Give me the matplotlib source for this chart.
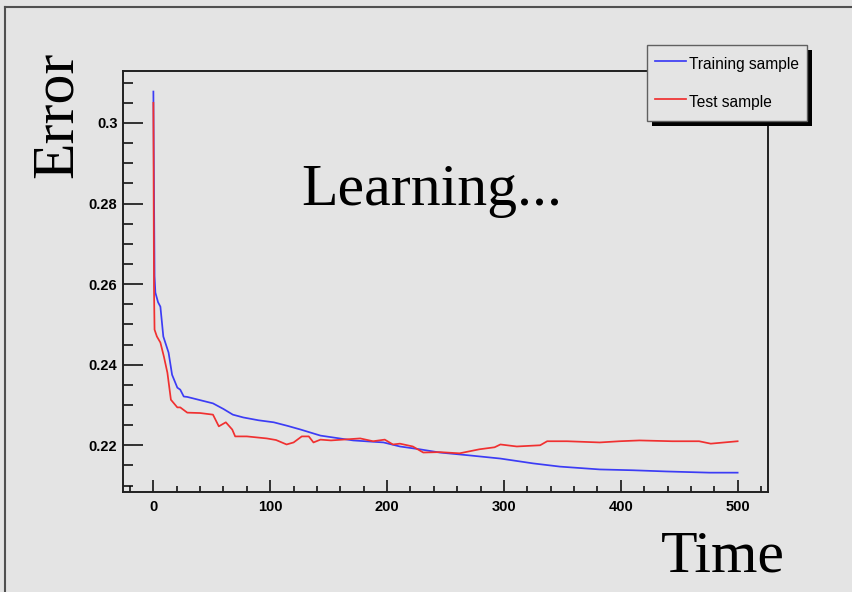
import matplotlib
matplotlib.use("Agg")
import matplotlib.pyplot as plt
from matplotlib.lines import Line2D
from matplotlib.patches import Rectangle
from matplotlib.ticker import MultipleLocator

# error curves vs. training epoch
train_t = [0, 0.5, 1, 1.7, 4, 6, 8.5, 13, 16, 20.5, 23, 26, 29, 40, 51, 60, 68, 77, 90,
           103, 115, 126, 143, 171, 197, 211, 228, 245, 270, 297, 325, 348, 382, 410,
           439, 476, 500]
train_err = [0.3078, 0.285, 0.262, 0.2579, 0.2555, 0.2544, 0.247, 0.243, 0.2375, 0.2343,
             0.2338, 0.2321, 0.232, 0.2312, 0.2304, 0.229, 0.2276, 0.2269, 0.2262, 0.2257,
             0.2248, 0.2239, 0.2224, 0.2212, 0.2207, 0.2197, 0.219, 0.2182, 0.2175, 0.2167,
             0.2155, 0.2147, 0.214, 0.2138, 0.2135, 0.2132, 0.2132]

test_t = [0, 0.5, 1, 3, 6, 9, 12, 15, 20.5, 23, 29, 40, 51, 56, 62, 67.5, 70, 80, 97, 105,
          114, 120, 127, 133, 137, 143, 152, 162, 177, 188, 198, 205, 211, 222, 231, 245,
          262, 279, 292, 297, 311, 331, 337, 354, 382, 399, 416, 444, 467, 477, 500]
test_err = [0.305, 0.2594, 0.2487, 0.247, 0.2455, 0.242, 0.238, 0.2313, 0.2294, 0.2294,
            0.2281, 0.228, 0.2276, 0.2247, 0.2257, 0.2239, 0.2222, 0.2222, 0.2217, 0.2213,
            0.2202, 0.2207, 0.2222, 0.2222, 0.2207, 0.2214, 0.2212, 0.2214, 0.2217, 0.221,
            0.2214, 0.2202, 0.2204, 0.2197, 0.2182, 0.2183, 0.218, 0.219, 0.2195, 0.2202,
            0.2197, 0.22, 0.221, 0.221, 0.2207, 0.221, 0.2212, 0.221, 0.221, 0.2204, 0.221]

labels = ["Training sample", "Test sample"]
W, H = 852, 592
bg = "#e4e4e4"

fig = plt.figure(figsize=(W / 100, H / 100), dpi=100, facecolor=bg)
ax = fig.add_axes([123 / W, 1 - 492 / H, (768 - 123) / W, (492 - 71) / H], facecolor=bg)

l1, = ax.plot(train_t, train_err, color="#3c3cf5", lw=1.25)
l2, = ax.plot(test_t, test_err, color="#f03030", lw=1.25)

ax.set_xlim(-26, 526)
ax.set_ylim(0.2084, 0.3129)
ax.xaxis.set_major_locator(MultipleLocator(100))
ax.xaxis.set_minor_locator(MultipleLocator(20))
ax.yaxis.set_major_locator(MultipleLocator(0.02))
ax.yaxis.set_minor_locator(MultipleLocator(0.005))
ax.yaxis.set_major_formatter(plt.FuncFormatter(lambda v, p: ("%.2f" % v).rstrip("0")))

# root-style frame: only left and bottom axes, ticks pointing in
for s in ["top", "right"]:
    ax.spines[s].set_visible(False)
for s in ["left", "bottom"]:
    ax.spines[s].set_linewidth(1.4)
    ax.spines[s].set_color("#202020")
ax.tick_params(axis="y", which="major", direction="in", length=14.4, width=1.1, pad=4)
ax.tick_params(axis="y", which="minor", direction="in", length=7.2, width=1.1)
ax.tick_params(axis="x", which="major", direction="in", length=9, width=1.1, pad=6)
ax.tick_params(axis="x", which="minor", direction="in", length=4.5, width=1.1)
for lab in ax.get_xticklabels() + ax.get_yticklabels():
    lab.set_family("Liberation Sans")
    lab.set_fontweight("bold")
    lab.set_fontsize(10.5)

# top and right lines of the pad frame
ax.plot([0, 1], [1, 1], transform=ax.transAxes, color="#202020", lw=1.4, clip_on=False)
ax.plot([1, 1], [0, 1], transform=ax.transAxes, color="#202020", lw=1.4, clip_on=False)

leg = fig.legend([l1, l2], labels, loc="upper left",
                 bbox_to_anchor=(647 / W, 1 - 45 / H), bbox_transform=fig.transFigure,
                 prop={"family": "Liberation Sans", "size": 11.2},
                 handlelength=2.0, handleheight=1.75, handletextpad=0.2, borderpad=0.5,
                 labelspacing=1.1, borderaxespad=0, fancybox=False, frameon=True,
                 framealpha=1)
leg.get_frame().set_facecolor(bg)
leg.get_frame().set_edgecolor("#606060")
leg.get_frame().set_linewidth(1.0)
leg.set_zorder(6)

# black drop shadow under the legend box
fig.canvas.draw()
bb = leg.get_window_extent()
fig.patches.append(Rectangle((bb.x0 + 5, bb.y0 - 5), bb.width, bb.height,
                             transform=None, facecolor="black", edgecolor="none",
                             zorder=5, figure=fig))

serif = "Liberation Serif"
fig.text(432 / W, 1 - 205 / H, "Learning...", family=serif, fontsize=43,
         ha="center", va="baseline")
fig.text(72 / W, 1 - 178 / H, "Error", family=serif, fontsize=43, rotation=90,
         rotation_mode="anchor", ha="left", va="baseline")
fig.text(661 / W, 1 - 572 / H, "Time", family=serif, fontsize=43,
         ha="left", va="baseline")

# window border on the left and top
fig.lines.append(Line2D([4.5 / W, 4.5 / W], [0, 1 - 6.5 / H], transform=fig.transFigure,
                        color="#505050", lw=1.5))
fig.lines.append(Line2D([4.5 / W, 1], [1 - 6.5 / H, 1 - 6.5 / H], transform=fig.transFigure,
                        color="#505050", lw=1.5))

fig.savefig("out.png", dpi=100, facecolor=bg)
